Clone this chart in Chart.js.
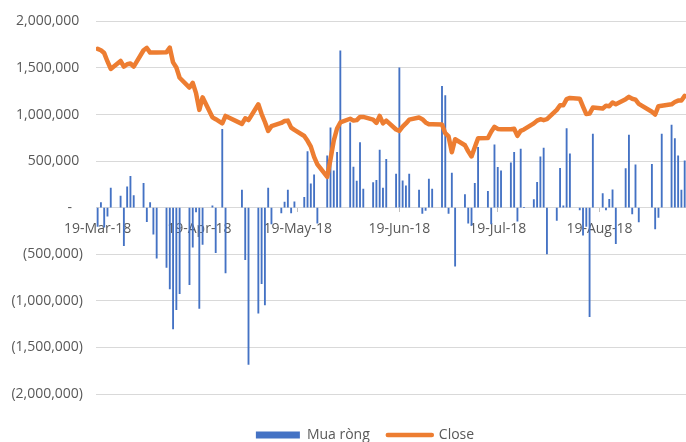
<!DOCTYPE html>
<html>
<head>
<meta charset="utf-8">
<script src="https://cdn.jsdelivr.net/npm/chart.js@4.4.1/dist/chart.umd.min.js"></script>
<style>
  html, body { margin: 0; padding: 0; background: #fff; }
  canvas { display: block; }
</style>
</head>
<body>
<canvas id="chart" width="686" height="442"></canvas>
<script>
var dates = [
    '2018-03-19','2018-03-20','2018-03-21','2018-03-22','2018-03-23','2018-03-26','2018-03-27','2018-03-28','2018-03-29','2018-03-30',
    '2018-04-02','2018-04-03','2018-04-04','2018-04-05','2018-04-06','2018-04-09','2018-04-10','2018-04-11','2018-04-12','2018-04-13',
    '2018-04-16','2018-04-17','2018-04-18','2018-04-19','2018-04-20','2018-04-23','2018-04-24','2018-04-26','2018-04-27',
    '2018-05-02','2018-05-03','2018-05-04','2018-05-07','2018-05-08','2018-05-09','2018-05-10','2018-05-11','2018-05-14','2018-05-15',
    '2018-05-16','2018-05-17','2018-05-18','2018-05-21','2018-05-22','2018-05-23','2018-05-24','2018-05-25','2018-05-28','2018-05-29',
    '2018-05-30','2018-05-31',
    '2018-06-01','2018-06-04','2018-06-05','2018-06-06','2018-06-07','2018-06-08','2018-06-11','2018-06-12','2018-06-13','2018-06-14',
    '2018-06-15','2018-06-18','2018-06-19','2018-06-20','2018-06-21','2018-06-22','2018-06-25','2018-06-26','2018-06-27','2018-06-28',
    '2018-06-29',
    '2018-07-02','2018-07-03','2018-07-04','2018-07-05','2018-07-06','2018-07-09','2018-07-10','2018-07-11','2018-07-12','2018-07-13',
    '2018-07-16','2018-07-17','2018-07-18','2018-07-19','2018-07-20','2018-07-23','2018-07-24','2018-07-25','2018-07-26','2018-07-27',
    '2018-07-30','2018-07-31',
    '2018-08-01','2018-08-02','2018-08-03','2018-08-06','2018-08-07','2018-08-08','2018-08-09','2018-08-10','2018-08-13','2018-08-14',
    '2018-08-15','2018-08-16','2018-08-17','2018-08-20','2018-08-21','2018-08-22','2018-08-23','2018-08-24','2018-08-27','2018-08-28',
    '2018-08-29','2018-08-30','2018-08-31',
    '2018-09-04','2018-09-05','2018-09-06','2018-09-07','2018-09-10','2018-09-11','2018-09-12','2018-09-13','2018-09-14'
];

var muaRong = [
    -200000, 55000, -210000, -90000, 210000, 125000, -407000, 225000, 336000, 130000,
    261000, -150000, 54000, -283000, -541000, -641000, -872000, -1301000, -1094000, -924000,
    -826000, -424000, -45000, -1080000, -393000, 20000, -482000, 840000, -700000,
    190000, -557000, -1683000, -1133000, -815000, -1044000, 210000, -175000, -55000, 60000,
    190000, -55000, 64000, 110000, 603000, 255000, 352000, -166000, 557000, 858000,
    397000, 594000,
    1684000, 910000, 436000, 286000, 700000, 200000, 270000, 295000, 619000, 211000,
    518000, 360000, 1501000, 288000, 236000, 360000, 190000, -62000, -30000, 308000,
    200000,
    1302000, 1204000, -62000, 371000, -629000, 140000, -165000, -190000, 261000, 647000,
    175000, -175000, 676000, 433000, 397000, 483000, 594000, -145000, 629000, 0,
    88000, 272000,
    547000, 640000, -497000, -136000, 422000, 20000, 850000, 579000, -25000, -296000,
    -200000, -1169000, 790000, 152000, -25000, 90000, 191000, -386000, 421000, 779000,
    -68000, 461000, -152000,
    466000, -229000, -104000, 790000, 887000, 743000, 558000, 190000, 504000
];

var closePrice = [
    1705000, 1690000, 1660000, 1570000, 1490000, 1575000, 1515000, 1540000, 1548000, 1515000,
    1690000, 1715000, 1665000, 1665000, 1665000, 1670000, 1718000, 1560000, 1505000, 1395000,
    1290000, 1340000, 1230000, 1050000, 1185000, 970000, 950000, 905000, 985000,
    900000, 960000, 940000, 1110000, 1005000, 920000, 825000, 875000, 910000, 930000,
    935000, 860000, 835000, 770000, 718000, 655000, 545000, 465000, 330000, 520000,
    720000, 850000,
    915000, 955000, 935000, 940000, 975000, 975000, 945000, 910000, 985000, 905000,
    935000, 840000, 825000, 870000, 905000, 945000, 968000, 950000, 915000, 896000,
    896000,
    893000, 800000, 765000, 595000, 735000, 670000, 605000, 550000, 650000, 745000,
    748000, 815000, 868000, 845000, 843000, 843000, 848000, 771000, 825000, 840000,
    905000, 935000,
    950000, 940000, 950000, 1050000, 1100000, 1100000, 1165000, 1178000, 1170000, 1085000,
    1005000, 1010000, 1075000, 1065000, 1095000, 1090000, 1130000, 1110000, 1165000, 1190000,
    1170000, 1160000, 1115000,
    1030000, 1000000, 1090000, 1095000, 1110000, 1135000, 1150000, 1150000, 1200000
];

var xTicks = ['19-Mar-18', '19-Apr-18', '19-May-18', '19-Jun-18', '19-Jul-18', '19-Aug-18'];

var months = ['Jan','Feb','Mar','Apr','May','Jun','Jul','Aug','Sep','Oct','Nov','Dec'];
var DAY = 86400000;
var start = Date.parse(dates[0]);

// days since the first trading day, so the x axis keeps real calendar gaps
function dayIndex(iso) {
    return Math.round((Date.parse(iso) - start) / DAY);
}
function tickDay(label) {
    var p = label.split('-');
    return Math.round((Date.UTC(2000 + parseInt(p[2], 10), months.indexOf(p[1]), parseInt(p[0], 10)) - start) / DAY);
}
var tickPositions = xTicks.map(tickDay);

function fmt(n) {
    return n.toLocaleString('en-US');
}

var barPoints = dates.map(function(d, i) { return { x: dayIndex(d), y: muaRong[i] }; });
var linePoints = dates.map(function(d, i) { return { x: dayIndex(d), y: closePrice[i] }; });

var textColor = '#595959';
var gridColor = '#d9d9d9';
var font = { family: 'Open Sans', size: 14 };

// Excel put the legend a bit right of centre and lower than chart.js would
var nudgeLegend = {
    id: 'nudgeLegend',
    afterLayout: function(chart) {
        var lg = chart.legend;
        lg.left += 22; lg.right += 22;
        lg.top += 16; lg.bottom += 16;
    }
};

var ctx = document.getElementById('chart').getContext('2d');
var chart = new Chart(ctx, {
    type: 'bar',
    data: {
        datasets: [{
            type: 'bar',
            label: 'Mua ròng',
            data: barPoints,
            backgroundColor: '#4472C4',
            barThickness: 1.2,
            order: 1
        }, {
            type: 'line',
            label: 'Close',
            data: linePoints,
            borderColor: '#ED7D31',
            backgroundColor: '#ED7D31',
            borderWidth: 4.5,
            borderJoinStyle: 'round',
            borderCapStyle: 'round',
            pointRadius: 0,
            tension: 0,
            order: 0
        }]
    },
    options: {
        responsive: false,
        animation: false,
        layout: { padding: { top: 21, left: 0, right: 0, bottom: 6 } },
        scales: {
            x: {
                type: 'linear',
                offset: false,
                position: { y: 0 },
                min: -0.5,
                max: 179.4,
                afterBuildTicks: function(scale) {
                    scale.ticks = tickPositions.map(function(v) { return { value: v }; });
                },
                ticks: {
                    autoSkip: false,
                    maxRotation: 0,
                    padding: 9,
                    color: textColor,
                    font: font,
                    callback: function(value) {
                        return xTicks[tickPositions.indexOf(value)];
                    }
                },
                grid: {
                    offset: false,
                    drawOnChartArea: false,
                    drawTicks: true,
                    tickLength: 4,
                    color: '#bfbfbf'
                },
                border: { display: true, color: gridColor }
            },
            y: {
                min: -2000000,
                max: 2000000,
                afterFit: function(scale) { scale.width = 96; },
                ticks: {
                    stepSize: 500000,
                    padding: 13,
                    color: textColor,
                    font: font,
                    callback: function(v) {
                        if (v === 0) return '-   ';
                        if (v < 0) return '(' + fmt(-v) + ')';
                        return fmt(v) + ' ';
                    }
                },
                grid: { color: gridColor, drawTicks: false },
                border: { display: false }
            }
        },
        plugins: {
            tooltip: { enabled: false },
            legend: {
                position: 'bottom',
                labels: {
                    usePointStyle: true,
                    pointStyleWidth: 44,
                    boxHeight: 7,
                    padding: 18,
                    color: textColor,
                    font: font,
                    generateLabels: function(chart) {
                        var items = Chart.defaults.plugins.legend.labels.generateLabels(chart);
                        items.sort(function(a, b) { return a.datasetIndex - b.datasetIndex; });
                        items[0].pointStyle = 'rect';
                        items[0].fillStyle = '#4472C4';
                        items[0].lineWidth = 0;
                        items[1].pointStyle = 'line';
                        items[1].strokeStyle = '#ED7D31';
                        items[1].lineWidth = 4.5;
                        items[1].lineCap = 'round';
                        return items;
                    }
                }
            }
        }
    },
    plugins: [nudgeLegend]
});
</script>
</body>
</html>
